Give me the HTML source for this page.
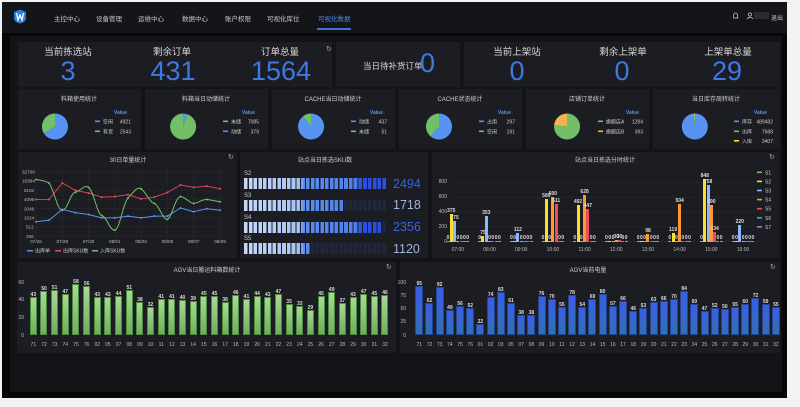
<!DOCTYPE html>
<html><head><meta charset="utf-8"><style>
*{margin:0;padding:0;box-sizing:border-box}
body{width:800px;height:407px;background:#f3f3f3;position:relative;overflow:hidden;font-family:"Liberation Sans","Noto Sans CJK SC",sans-serif;color:#ccc}
.a{position:absolute}
#frame{left:2px;top:2px;width:785px;height:396px;background:#070708}
#nav{left:2px;top:2px;width:785px;height:31px;background:#141519}
.nv{position:absolute;top:13px;font-size:6.5px;color:#c8c8c8;white-space:nowrap}
#cont{left:10px;top:36px;width:772px;height:356px;background:#131418}
.p{position:absolute;background:#1c1d22}
.t{position:absolute;font-size:6px;color:#d0d0d0;white-space:nowrap;transform:translateX(-50%)}
.sl{position:absolute;font-size:9.5px;color:#d8d8d8;transform:translateX(-50%);white-space:nowrap}
.sn{position:absolute;font-size:27px;color:#3e78e0;transform:translateX(-50%);line-height:1}
.bars{position:absolute;display:flex;align-items:flex-end}
.bars>div{display:flex;justify-content:center;align-items:flex-end;height:100%}
.bars b{display:block;position:relative}
.bars i{position:absolute;bottom:100%;left:50%;transform:translateX(-50%);font-style:normal;font-size:5px;color:#ddd;white-space:nowrap;line-height:6px}
.gb b{width:3px;margin:0 .15px}
.c1{background:#73bf69}.c2{background:#fade2a}.c3{background:#8ab8ff}.c4{background:#ff9830}.c5{background:#f2495c}.c6{background:#5794f2}.c7{background:#b877d9}
.ag b{width:7px;background:linear-gradient(#a6da93,#6daf5c);border:.6px solid #4d8a3f}
.ab b{width:8px;background:linear-gradient(#3b5de6,#3070b4);border:.6px solid #24458f}
.xl{position:absolute;display:flex;font-size:5px;color:#bbb}
.xl span{text-align:center}
.yl{position:absolute;font-size:5px;color:#bbb;text-align:right;width:20px}
.gauge{position:absolute;left:244px;width:143px;background:repeating-linear-gradient(to right,#1e283a 0 3.6px,#1c1d22 3.6px 4.77px)}
.fill{position:absolute;left:0;top:0;height:100%;background:linear-gradient(to right,#c6d8f6,#a9c4f1 38%,#5b8cee 42%,#4d80ec 78%,#2a4fe2 82%,#2a4fe2);background-size:143px 100%}
.fill::after{content:"";position:absolute;inset:0;background:repeating-linear-gradient(to right,transparent 0 3.6px,#1c1d22 3.6px 4.77px)}
.gv{position:absolute;left:393px;font-size:12.5px;line-height:1}
.gl{position:absolute;left:244px;font-size:6px;color:#ccc}
</style></head><body>
<div id="frame" class="a"></div>
<div id="nav" class="a"></div>
<svg class="a" style="left:13px;top:9px" width="14" height="15" viewBox="0 0 14 15"><path d="M7 0.5 L13 3 L13 9 Q13 13 7 14.5 Q1 13 1 9 L1 3 Z" fill="#2f7fe0"/><path d="M3.5 4 L5 11 L7 6 L9 11 L10.5 4" stroke="#fff" stroke-width="1.3" fill="none"/></svg>
<div class="nv" style="left:54px">主控中心</div>
<div class="nv" style="left:96px">设备管理</div>
<div class="nv" style="left:138px">运维中心</div>
<div class="nv" style="left:182px">数据中心</div>
<div class="nv" style="left:225px">账户权限</div>
<div class="nv" style="left:267px">可视化库位</div>
<div class="nv" style="left:318px;color:#4a86e8">可视化数据</div>
<div class="a" style="left:317px;top:28px;width:34px;height:1.5px;background:#3d74d6"></div>
<svg class="a" style="left:733px;top:12px" width="28" height="8"><path d="M2.5 1 Q4.5 1 4.5 4 L5 6 L0 6 L0.5 4 Q0.5 1 2.5 1Z" fill="none" stroke="#ccc" stroke-width=".7"/><circle cx="17" cy="2.5" r="1.6" fill="none" stroke="#ccc" stroke-width=".7"/><path d="M14 7 Q17 3.5 20 7" fill="none" stroke="#ccc" stroke-width=".7"/></svg>
<div class="a" style="left:754px;top:12px;width:15px;height:7px;background:#2a2b30"></div>
<div class="nv" style="left:771px;font-size:6px">退出</div>
<div id="cont" class="a"></div>

<!-- Row 1 -->
<div class="p" style="left:18px;top:42px;width:314px;height:45px"></div>
<div class="p" style="left:336px;top:42px;width:124px;height:45px"></div>
<div class="p" style="left:464px;top:42px;width:316px;height:45px"></div>
<div class="sl" style="left:68px;top:44px">当前拣选站</div>
<div class="sl" style="left:172px;top:44px">剩余订单</div>
<div class="sl" style="left:280px;top:44px">订单总量</div>
<div class="sn" style="left:68px;top:58px">3</div>
<div class="sn" style="left:173px;top:58px">431</div>
<div class="sn" style="left:281px;top:58px">1564</div>
<div class="a" style="left:326px;top:45px;font-size:7px;color:#aaa">↻</div>
<div class="a" style="left:363px;top:60px;font-size:8.5px;color:#d8d8d8">当日待补货订单</div>
<div class="a" style="left:420px;top:50px;font-size:27px;color:#3e78e0;line-height:1">0</div>
<div class="sl" style="left:517px;top:44px">当前上架站</div>
<div class="sl" style="left:623px;top:44px">剩余上架单</div>
<div class="sl" style="left:728px;top:44px">上架单总量</div>
<div class="sn" style="left:517px;top:58px">0</div>
<div class="sn" style="left:622px;top:58px">0</div>
<div class="sn" style="left:727px;top:58px">29</div>

<!-- Row 2 -->
<div class="p" style="left:18px;top:89px;width:123px;height:60px"></div>
<div class="p" style="left:145px;top:89px;width:123px;height:60px"></div>
<div class="p" style="left:272px;top:89px;width:123px;height:60px"></div>
<div class="p" style="left:399px;top:89px;width:123px;height:60px"></div>
<div class="p" style="left:526px;top:89px;width:123px;height:60px"></div>
<div class="p" style="left:653px;top:89px;width:127px;height:60px"></div>
<div class="t" style="left:79px;top:94px">料箱使用统计</div>
<div class="t" style="left:206px;top:94px">料箱当日动储统计</div>
<div class="t" style="left:333px;top:94px">CACHE当日动储统计</div>
<div class="t" style="left:460px;top:94px">CACHE状态统计</div>
<div class="t" style="left:587px;top:94px">店铺订单统计</div>
<div class="t" style="left:716px;top:94px">当日库存周转统计</div>
<svg class="a" style="left:0;top:0" width="800" height="160" font-family="Liberation Sans, Noto Sans CJK SC, sans-serif" font-size="5">
<g transform="translate(55,126.5)"><path d="M0,0 L0,-13 A13,13 0 1 1 -11,7 Z" fill="#5794f2"/><path d="M0,0 L-11,7 A13,13 0 0 1 0,-13 Z" fill="#73bf69"/></g>
<g transform="translate(183,126.5)"><path d="M0,0 L0,-13 A13,13 0 0 1 4,-12.4 Z" fill="#5794f2"/><path d="M0,0 L4,-12.4 A13,13 0 1 1 0,-13 Z" fill="#73bf69"/></g>
<g transform="translate(311,126.5)"><path d="M0,0 L0,-13 A13,13 0 1 1 -8,-10.2 Z" fill="#5794f2"/><path d="M0,0 L-8,-10.2 A13,13 0 0 1 0,-13 Z" fill="#73bf69"/></g>
<g transform="translate(439,126.5)"><path d="M0,0 L0,-13 A13,13 0 1 1 -8.2,10.1 Z" fill="#5794f2"/><path d="M0,0 L-8.2,10.1 A13,13 0 0 1 0,-13 Z" fill="#73bf69"/></g>
<g transform="translate(567,126.5)"><path d="M0,0 L0,-13 A13,13 0 1 1 -12.9,-1.3 Z" fill="#73bf69"/><path d="M0,0 L-12.9,-1.3 A13,13 0 0 1 0,-13 Z" fill="#f2b24c"/></g>
<g transform="translate(695,126.5)"><path d="M0,0 L0,-13 A13,13 0 1 1 -1.8,-12.9 Z" fill="#5794f2"/><path d="M0,0 L-1.8,-12.9 A13,13 0 0 1 -0.5,-13 Z" fill="#73bf69"/><path d="M0,0 L-0.5,-13 A13,13 0 0 1 0,-13 Z" fill="#fade2a"/></g>
<g fill="#ccc">
<text x="127" y="114" fill="#5794f2" font-weight="bold" text-anchor="end">Value</text>
<rect x="95" y="120.5" width="5" height="1.6" fill="#5794f2"/><text x="103" y="123.5">空闲</text><text x="131" y="123.5" text-anchor="end">4921</text>
<rect x="95" y="130.5" width="5" height="1.6" fill="#73bf69"/><text x="103" y="133.5">有货</text><text x="131" y="133.5" text-anchor="end">2543</text>
<text x="255" y="114" fill="#5794f2" font-weight="bold" text-anchor="end">Value</text>
<rect x="223" y="120.5" width="5" height="1.6" fill="#73bf69"/><text x="231" y="123.5">未储</text><text x="259" y="123.5" text-anchor="end">7085</text>
<rect x="223" y="130.5" width="5" height="1.6" fill="#5794f2"/><text x="231" y="133.5">动储</text><text x="259" y="133.5" text-anchor="end">379</text>
<text x="383" y="114" fill="#5794f2" font-weight="bold" text-anchor="end">Value</text>
<rect x="351" y="120.5" width="5" height="1.6" fill="#5794f2"/><text x="359" y="123.5">动储</text><text x="387" y="123.5" text-anchor="end">437</text>
<rect x="351" y="130.5" width="5" height="1.6" fill="#73bf69"/><text x="359" y="133.5">未储</text><text x="387" y="133.5" text-anchor="end">51</text>
<text x="511" y="114" fill="#5794f2" font-weight="bold" text-anchor="end">Value</text>
<rect x="479" y="120.5" width="5" height="1.6" fill="#5794f2"/><text x="487" y="123.5">占用</text><text x="515" y="123.5" text-anchor="end">297</text>
<rect x="479" y="130.5" width="5" height="1.6" fill="#73bf69"/><text x="487" y="133.5">空闲</text><text x="515" y="133.5" text-anchor="end">191</text>
<text x="639" y="114" fill="#5794f2" font-weight="bold" text-anchor="end">Value</text>
<rect x="598" y="120.5" width="5" height="1.6" fill="#73bf69"/><text x="606" y="123.5">旗舰店A</text><text x="643" y="123.5" text-anchor="end">1284</text>
<rect x="598" y="130.5" width="5" height="1.6" fill="#f2b24c"/><text x="606" y="133.5">旗舰店B</text><text x="643" y="133.5" text-anchor="end">393</text>
<text x="767" y="114" fill="#5794f2" font-weight="bold" text-anchor="end">Value</text>
<rect x="734" y="120.5" width="5" height="1.6" fill="#5794f2"/><text x="742" y="123.5">库存</text><text x="773" y="123.5" text-anchor="end">489482</text>
<rect x="734" y="130.5" width="5" height="1.6" fill="#73bf69"/><text x="742" y="133.5">出库</text><text x="773" y="133.5" text-anchor="end">7688</text>
<rect x="734" y="140" width="5" height="1.6" fill="#fade2a"/><text x="742" y="143">入库</text><text x="773" y="143" text-anchor="end">3407</text>
</g>
</svg>

<!-- Row 3 panels -->
<div class="p" style="left:18px;top:152px;width:219px;height:106px"></div>
<div class="p" style="left:240px;top:152px;width:188px;height:106px"></div>
<div class="p" style="left:432px;top:152px;width:347px;height:106px"></div>
<div class="t" style="left:128px;top:155px">30日单量统计</div>
<div class="t" style="left:325px;top:155px">站点当日拣选SKU数</div>
<div class="t" style="left:605px;top:155px">站点当日拣选分时统计</div>
<div class="a" style="left:228px;top:153px;font-size:7px;color:#aaa">↻</div>
<div class="a" style="left:769px;top:153px;font-size:7px;color:#aaa">↻</div>

<svg class="a" style="left:0;top:0" width="240" height="260" font-family="Liberation Sans, Noto Sans CJK SC, sans-serif" font-size="4.6">
<g stroke="#2a2c32" stroke-width=".5">
<line x1="36" x2="222" y1="171.7" y2="171.7"/><line x1="36" x2="222" y1="180.9" y2="180.9"/><line x1="36" x2="222" y1="190.1" y2="190.1"/><line x1="36" x2="222" y1="199.3" y2="199.3"/><line x1="36" x2="222" y1="208.5" y2="208.5"/><line x1="36" x2="222" y1="217.6" y2="217.6"/><line x1="36" x2="222" y1="226.8" y2="226.8"/><line x1="36" x2="222" y1="236" y2="236"/>
<line x1="36" x2="36" y1="170" y2="236"/><line x1="62.3" x2="62.3" y1="170" y2="236"/><line x1="88.6" x2="88.6" y1="170" y2="236"/><line x1="114.8" x2="114.8" y1="170" y2="236"/><line x1="141.1" x2="141.1" y1="170" y2="236"/><line x1="167.4" x2="167.4" y1="170" y2="236"/><line x1="193.7" x2="193.7" y1="170" y2="236"/><line x1="220" x2="220" y1="170" y2="236"/>
</g>
<g fill="#bbb">
<text x="22" y="173.5">32768</text><text x="22" y="182.7">16384</text><text x="24" y="191.9">8192</text><text x="24" y="201.1">4096</text><text x="24" y="210.3">2048</text><text x="24" y="219.4">1024</text><text x="26" y="228.6">512</text><text x="26" y="237.8">256</text>
<g text-anchor="middle"><text x="36" y="243">07/26</text><text x="62.3" y="243">07/28</text><text x="88.6" y="243">07/30</text><text x="114.8" y="243">08/01</text><text x="141.1" y="243">08/03</text><text x="167.4" y="243">08/05</text><text x="193.7" y="243">08/07</text><text x="220" y="243">08/09</text></g>
</g>
<polyline fill="none" stroke="#5794f2" stroke-width="1" points="36,221.8 49.1,220.1 62.3,209.4 75.4,212.6 88.6,214.5 101.7,217.9 114.8,217.9 128,216.1 141.1,217.9 154.3,216.1 167.4,216.1 180.5,208 193.7,211.7 206.8,208.7 220,210.2"/>
<polyline fill="none" stroke="#f2495c" stroke-opacity=".85" stroke-width="1" points="36,199.5 49.1,199.4 62.3,183 75.4,190.3 88.6,193.1 101.7,197.1 114.8,196.6 128,194.6 141.1,198.9 154.3,197.1 167.4,192.5 180.5,185 193.7,187.4 206.8,186.1 220,188.8"/>
<path fill="none" stroke="#73bf69" stroke-width="1" d="M36,179.6 C42,180 45,181 49.1,183 C55,192 57,210 62.3,210.2 C68,210 70,193 75.4,192.2 C81,191 84,184 88.6,187.4 C94,192 97,214 101.7,215.5 C107,217 110,231 114.8,230.1 C120,229 123,203 128,198 C133,193 137,186 141.1,188.8 C146,192 150,203 154.3,203.4 C159,205 163,220 167.4,219.4 C172,218 175,197 180.5,196.6 C186,197 189,203 193.7,203.4 C199,203 202,199 206.8,199.5 C212,200 215,201 220,201.7"/>
<g fill="#5794f2"><circle cx="36" cy="221.8" r="1"/><circle cx="49.1" cy="220.1" r="1"/><circle cx="62.3" cy="209.4" r="1"/><circle cx="75.4" cy="212.6" r="1"/><circle cx="88.6" cy="214.5" r="1"/><circle cx="101.7" cy="217.9" r="1"/><circle cx="114.8" cy="217.9" r="1"/><circle cx="128" cy="216.1" r="1"/><circle cx="141.1" cy="217.9" r="1"/><circle cx="154.3" cy="216.1" r="1"/><circle cx="167.4" cy="216.1" r="1"/><circle cx="180.5" cy="208" r="1"/><circle cx="193.7" cy="211.7" r="1"/><circle cx="206.8" cy="208.7" r="1"/><circle cx="220" cy="210.2" r="1"/></g>
<g fill="#f2495c"><circle cx="36" cy="199.5" r="1"/><circle cx="49.1" cy="199.4" r="1"/><circle cx="62.3" cy="183" r="1"/><circle cx="75.4" cy="190.3" r="1"/><circle cx="88.6" cy="193.1" r="1"/><circle cx="101.7" cy="197.1" r="1"/><circle cx="114.8" cy="196.6" r="1"/><circle cx="128" cy="194.6" r="1"/><circle cx="141.1" cy="198.9" r="1"/><circle cx="154.3" cy="197.1" r="1"/><circle cx="167.4" cy="192.5" r="1"/><circle cx="180.5" cy="185" r="1"/><circle cx="193.7" cy="187.4" r="1"/><circle cx="206.8" cy="186.1" r="1"/><circle cx="220" cy="188.8" r="1"/></g>
<g fill="#73bf69"><circle cx="36" cy="179.6" r="1"/><circle cx="49.1" cy="183" r="1"/><circle cx="62.3" cy="210.2" r="1"/><circle cx="75.4" cy="192.2" r="1"/><circle cx="88.6" cy="187.4" r="1"/><circle cx="101.7" cy="215.5" r="1"/><circle cx="114.8" cy="230.1" r="1"/><circle cx="128" cy="198" r="1"/><circle cx="141.1" cy="188.8" r="1"/><circle cx="154.3" cy="203.4" r="1"/><circle cx="167.4" cy="219.4" r="1"/><circle cx="180.5" cy="196.6" r="1"/><circle cx="193.7" cy="203.4" r="1"/><circle cx="206.8" cy="199.5" r="1"/><circle cx="220" cy="201.7" r="1"/></g>
<g fill="#ccc" font-size="5"><rect x="27" y="250" width="6" height="1.5" fill="#5794f2"/><text x="35" y="252.5">出库单</text><rect x="55" y="250" width="6" height="1.5" fill="#f2495c"/><text x="63" y="252.5">出库SKU数</text><rect x="92" y="250" width="6" height="1.5" fill="#73bf69"/><text x="100" y="252.5">入库SKU数</text></g>
</svg>

<!-- SKU gauges -->
<div class="gl" style="top:171px">S2</div>
<div class="gauge" style="top:178px;height:11px"><div class="fill" style="width:143px"></div></div>
<div class="gv" style="top:178px;color:#3a63d6">2494</div>
<div class="gl" style="top:193px">S3</div>
<div class="gauge" style="top:200px;height:11px"><div class="fill" style="width:100px"></div></div>
<div class="gv" style="top:199px;color:#9fb5de">1718</div>
<div class="gl" style="top:215px">S4</div>
<div class="gauge" style="top:222px;height:11px"><div class="fill" style="width:138px"></div></div>
<div class="gv" style="top:221px;color:#3a63d6">2356</div>
<div class="gl" style="top:236px">S5</div>
<div class="gauge" style="top:243px;height:11px"><div class="fill" style="width:66.8px"></div></div>
<div class="gv" style="top:243px;color:#9fb5de">1120</div>

<!-- grouped bars -->
<svg class="a" style="left:432px;top:152px" width="347" height="106"><g stroke="#2a2c32" stroke-width=".5"><line x1="18" x2="330" y1="30.3" y2="30.3"/><line x1="18" x2="330" y1="45.1" y2="45.1"/><line x1="18" x2="330" y1="60" y2="60"/><line x1="18" x2="330" y1="74.9" y2="74.9"/><line x1="18" x2="330" y1="89.7" y2="89.7"/></g></svg>
<div class="yl" style="left:427px;top:179px">800</div>
<div class="yl" style="left:427px;top:194px">600</div>
<div class="yl" style="left:427px;top:209px">400</div>
<div class="yl" style="left:427px;top:224px">200</div>
<div class="yl" style="left:427px;top:238.5px">0</div>
<div class="bars gb" style="left:442px;top:160px;width:317px;height:81.7px">
<div style="width:31.7px"><b class="c1" style="height:.5px"><i>0</i></b><b class="c2" style="height:27.8px"><i>375</i></b><b class="c3" style="height:20.4px"><i>275</i></b><b class="c4" style="height:.5px"><i>0</i></b><b class="c5" style="height:.5px"><i>0</i></b><b class="c6" style="height:.5px"><i>0</i></b><b class="c7" style="height:.5px"><i>0</i></b></div>
<div style="width:31.7px"><b class="c1" style="height:.5px"><i>0</i></b><b class="c2" style="height:5.6px"><i>75</i></b><b class="c3" style="height:26.2px"><i>353</i></b><b class="c4" style="height:.5px"><i>0</i></b><b class="c5" style="height:.5px"><i>0</i></b><b class="c6" style="height:.5px"><i>0</i></b><b class="c7" style="height:.5px"><i>0</i></b></div>
<div style="width:31.7px"><b class="c1" style="height:.5px"><i>0</i></b><b class="c2" style="height:.5px"><i>0</i></b><b class="c3" style="height:8.3px"><i>112</i></b><b class="c4" style="height:.5px"><i>0</i></b><b class="c5" style="height:.5px"><i>0</i></b><b class="c6" style="height:.5px"><i>0</i></b><b class="c7" style="height:.5px"><i>0</i></b></div>
<div style="width:31.7px"><b class="c1" style="height:.5px"><i>0</i></b><b class="c2" style="height:43.1px"><i>580</i></b><b class="c3" style="height:.5px"><i>0</i></b><b class="c4" style="height:44.6px"><i>600</i></b><b class="c5" style="height:37.9px"><i>511</i></b><b class="c6" style="height:.5px"><i>0</i></b><b class="c7" style="height:.5px"><i>0</i></b></div>
<div style="width:31.7px"><b class="c1" style="height:.5px"><i>0</i></b><b class="c2" style="height:36.5px"><i>492</i></b><b class="c3" style="height:.5px"><i>0</i></b><b class="c4" style="height:46.6px"><i>628</i></b><b class="c5" style="height:33.2px"><i>447</i></b><b class="c6" style="height:.5px"><i>0</i></b><b class="c7" style="height:.5px"><i>0</i></b></div>
<div style="width:31.7px"><b class="c1" style="height:.5px"><i>0</i></b><b class="c2" style="height:.5px"><i>0</i></b><b class="c3" style="height:.5px"><i>0</i></b><b class="c4" style="height:2.2px"><i>30</i></b><b class="c5" style="height:2.2px"><i>30</i></b><b class="c6" style="height:.5px"><i>0</i></b><b class="c7" style="height:.5px"><i>0</i></b></div>
<div style="width:31.7px"><b class="c1" style="height:.5px"><i>0</i></b><b class="c2" style="height:.5px"><i>0</i></b><b class="c3" style="height:.5px"><i>0</i></b><b class="c4" style="height:7.3px"><i>98</i></b><b class="c5" style="height:.5px"><i>0</i></b><b class="c6" style="height:.5px"><i>0</i></b><b class="c7" style="height:.5px"><i>0</i></b></div>
<div style="width:31.7px"><b class="c1" style="height:.5px"><i>0</i></b><b class="c2" style="height:8.8px"><i>119</i></b><b class="c3" style="height:.5px"><i>0</i></b><b class="c4" style="height:37.4px"><i>504</i></b><b class="c5" style="height:.5px"><i>0</i></b><b class="c6" style="height:.5px"><i>0</i></b><b class="c7" style="height:.5px"><i>0</i></b></div>
<div style="width:31.7px"><b class="c1" style="height:.5px"><i>0</i></b><b class="c2" style="height:63px"><i>848</i></b><b class="c3" style="height:56.3px"><i>758</i></b><b class="c4" style="height:36.4px"><i>490</i></b><b class="c5" style="height:9.9px"><i>134</i></b><b class="c6" style="height:.5px"><i>0</i></b><b class="c7" style="height:.5px"><i>0</i></b></div>
<div style="width:31.7px"><b class="c1" style="height:.5px"><i>0</i></b><b class="c2" style="height:.5px"><i>0</i></b><b class="c3" style="height:16.3px"><i>220</i></b><b class="c4" style="height:.5px"><i>0</i></b><b class="c5" style="height:.5px"><i>0</i></b><b class="c6" style="height:.5px"><i>0</i></b><b class="c7" style="height:.5px"><i>0</i></b></div>
</div>
<div class="xl" style="left:442px;top:247px;width:317px"><span style="width:31.7px">07:00</span><span style="width:31.7px">08:00</span><span style="width:31.7px">09:00</span><span style="width:31.7px">10:00</span><span style="width:31.7px">11:00</span><span style="width:31.7px">12:00</span><span style="width:31.7px">13:00</span><span style="width:31.7px">14:00</span><span style="width:31.7px">15:00</span><span style="width:31.7px">16:00</span></div>
<svg class="a" style="left:755px;top:168px" width="25" height="66" font-family="Liberation Sans, sans-serif" font-size="5" fill="#ccc">
<rect x="2" y="3.5" width="5" height="1.6" fill="#73bf69"/><text x="10" y="6.3">S1</text>
<rect x="2" y="12.6" width="5" height="1.6" fill="#fade2a"/><text x="10" y="15.4">S2</text>
<rect x="2" y="21.7" width="5" height="1.6" fill="#8ab8ff"/><text x="10" y="24.5">S3</text>
<rect x="2" y="30.8" width="5" height="1.6" fill="#ff9830"/><text x="10" y="33.6">S4</text>
<rect x="2" y="39.9" width="5" height="1.6" fill="#f2495c"/><text x="10" y="42.7">S5</text>
<rect x="2" y="49" width="5" height="1.6" fill="#5794f2"/><text x="10" y="51.8">S6</text>
<rect x="2" y="58.1" width="5" height="1.6" fill="#b877d9"/><text x="10" y="60.9">S7</text>
</svg>

<!-- Row 4 -->
<div class="p" style="left:17px;top:262px;width:379px;height:91px"></div>
<div class="p" style="left:400px;top:262px;width:380px;height:91px"></div>
<div class="t" style="left:207px;top:265px">AGV当日搬运料箱数统计</div>
<div class="t" style="left:588px;top:265px">AGV当前电量</div>
<div class="a" style="left:386px;top:263px;font-size:7px;color:#aaa">↻</div>
<div class="a" style="left:770px;top:263px;font-size:7px;color:#aaa">↻</div>
<div class="yl" style="left:4px;top:279.5px">60</div>
<div class="yl" style="left:4px;top:297px">40</div>
<div class="yl" style="left:4px;top:315px">20</div>
<div class="yl" style="left:4px;top:332.5px">0</div>
<div class="bars ag" style="left:28px;top:275px;width:362.4px;height:60.3px">
<div style="width:10.66px"><b style="height:38px"><i>43</i></b></div><div style="width:10.66px"><b style="height:44.2px"><i>50</i></b></div><div style="width:10.66px"><b style="height:45px"><i>51</i></b></div><div style="width:10.66px"><b style="height:41.5px"><i>47</i></b></div><div style="width:10.66px"><b style="height:51.2px"><i>58</i></b></div><div style="width:10.66px"><b style="height:49.4px"><i>56</i></b></div><div style="width:10.66px"><b style="height:38px"><i>43</i></b></div><div style="width:10.66px"><b style="height:38px"><i>43</i></b></div><div style="width:10.66px"><b style="height:38.9px"><i>44</i></b></div><div style="width:10.66px"><b style="height:45px"><i>51</i></b></div><div style="width:10.66px"><b style="height:33.6px"><i>38</i></b></div><div style="width:10.66px"><b style="height:28.3px"><i>32</i></b></div><div style="width:10.66px"><b style="height:36.2px"><i>41</i></b></div><div style="width:10.66px"><b style="height:36.2px"><i>41</i></b></div><div style="width:10.66px"><b style="height:35.3px"><i>40</i></b></div><div style="width:10.66px"><b style="height:34.4px"><i>39</i></b></div><div style="width:10.66px"><b style="height:39.7px"><i>45</i></b></div><div style="width:10.66px"><b style="height:39.7px"><i>45</i></b></div><div style="width:10.66px"><b style="height:33.6px"><i>38</i></b></div><div style="width:10.66px"><b style="height:40.6px"><i>46</i></b></div><div style="width:10.66px"><b style="height:36.2px"><i>41</i></b></div><div style="width:10.66px"><b style="height:38.9px"><i>44</i></b></div><div style="width:10.66px"><b style="height:38px"><i>43</i></b></div><div style="width:10.66px"><b style="height:41.5px"><i>47</i></b></div><div style="width:10.66px"><b style="height:30.9px"><i>35</i></b></div><div style="width:10.66px"><b style="height:29.1px"><i>33</i></b></div><div style="width:10.66px"><b style="height:25.6px"><i>29</i></b></div><div style="width:10.66px"><b style="height:39.7px"><i>45</i></b></div><div style="width:10.66px"><b style="height:43.3px"><i>49</i></b></div><div style="width:10.66px"><b style="height:32.7px"><i>37</i></b></div><div style="width:10.66px"><b style="height:38px"><i>43</i></b></div><div style="width:10.66px"><b style="height:41.5px"><i>47</i></b></div><div style="width:10.66px"><b style="height:39.7px"><i>45</i></b></div><div style="width:10.66px"><b style="height:40.6px"><i>46</i></b></div>
</div>
<div class="xl" style="left:28px;top:342px;width:362.4px"><span style="width:10.66px">71</span><span style="width:10.66px">72</span><span style="width:10.66px">73</span><span style="width:10.66px">74</span><span style="width:10.66px">75</span><span style="width:10.66px">76</span><span style="width:10.66px">02</span><span style="width:10.66px">05</span><span style="width:10.66px">07</span><span style="width:10.66px">08</span><span style="width:10.66px">09</span><span style="width:10.66px">10</span><span style="width:10.66px">11</span><span style="width:10.66px">12</span><span style="width:10.66px">13</span><span style="width:10.66px">14</span><span style="width:10.66px">15</span><span style="width:10.66px">16</span><span style="width:10.66px">17</span><span style="width:10.66px">18</span><span style="width:10.66px">19</span><span style="width:10.66px">20</span><span style="width:10.66px">21</span><span style="width:10.66px">22</span><span style="width:10.66px">23</span><span style="width:10.66px">24</span><span style="width:10.66px">25</span><span style="width:10.66px">26</span><span style="width:10.66px">27</span><span style="width:10.66px">28</span><span style="width:10.66px">29</span><span style="width:10.66px">30</span><span style="width:10.66px">31</span><span style="width:10.66px">32</span></div>

<div class="yl" style="left:386px;top:280px">100</div>
<div class="yl" style="left:386px;top:293px">75</div>
<div class="yl" style="left:386px;top:306px">50</div>
<div class="yl" style="left:386px;top:319px">25</div>
<div class="yl" style="left:386px;top:332.5px">0</div>
<div class="bars ab" style="left:414.2px;top:275px;width:366.8px;height:60.3px">
<div style="width:10.19px"><b style="height:49.7px"><i>95</i></b></div><div style="width:10.19px"><b style="height:32.4px"><i>62</i></b></div><div style="width:10.19px"><b style="height:48.1px"><i>92</i></b></div><div style="width:10.19px"><b style="height:25.6px"><i>49</i></b></div><div style="width:10.19px"><b style="height:29.3px"><i>56</i></b></div><div style="width:10.19px"><b style="height:27.2px"><i>52</i></b></div><div style="width:10.19px"><b style="height:11.5px"><i>22</i></b></div><div style="width:10.19px"><b style="height:38.7px"><i>74</i></b></div><div style="width:10.19px"><b style="height:43.4px"><i>83</i></b></div><div style="width:10.19px"><b style="height:31.9px"><i>61</i></b></div><div style="width:10.19px"><b style="height:19.9px"><i>38</i></b></div><div style="width:10.19px"><b style="height:19.9px"><i>38</i></b></div><div style="width:10.19px"><b style="height:39.7px"><i>76</i></b></div><div style="width:10.19px"><b style="height:36.6px"><i>70</i></b></div><div style="width:10.19px"><b style="height:28.8px"><i>55</i></b></div><div style="width:10.19px"><b style="height:40.8px"><i>78</i></b></div><div style="width:10.19px"><b style="height:28.2px"><i>54</i></b></div><div style="width:10.19px"><b style="height:36.1px"><i>69</i></b></div><div style="width:10.19px"><b style="height:41.8px"><i>80</i></b></div><div style="width:10.19px"><b style="height:29.8px"><i>57</i></b></div><div style="width:10.19px"><b style="height:34.5px"><i>66</i></b></div><div style="width:10.19px"><b style="height:24.1px"><i>46</i></b></div><div style="width:10.19px"><b style="height:27.7px"><i>53</i></b></div><div style="width:10.19px"><b style="height:32.9px"><i>63</i></b></div><div style="width:10.19px"><b style="height:34.5px"><i>66</i></b></div><div style="width:10.19px"><b style="height:36.6px"><i>70</i></b></div><div style="width:10.19px"><b style="height:43.9px"><i>84</i></b></div><div style="width:10.19px"><b style="height:31.4px"><i>60</i></b></div><div style="width:10.19px"><b style="height:24.6px"><i>47</i></b></div><div style="width:10.19px"><b style="height:27.2px"><i>52</i></b></div><div style="width:10.19px"><b style="height:26.2px"><i>50</i></b></div><div style="width:10.19px"><b style="height:28.8px"><i>55</i></b></div><div style="width:10.19px"><b style="height:31.4px"><i>60</i></b></div><div style="width:10.19px"><b style="height:37.7px"><i>72</i></b></div><div style="width:10.19px"><b style="height:30.9px"><i>59</i></b></div><div style="width:10.19px"><b style="height:28.8px"><i>55</i></b></div>
</div>
<div class="xl" style="left:414.2px;top:342px;width:366.8px"><span style="width:10.19px">71</span><span style="width:10.19px">72</span><span style="width:10.19px">73</span><span style="width:10.19px">74</span><span style="width:10.19px">75</span><span style="width:10.19px">76</span><span style="width:10.19px">01</span><span style="width:10.19px">02</span><span style="width:10.19px">03</span><span style="width:10.19px">05</span><span style="width:10.19px">07</span><span style="width:10.19px">08</span><span style="width:10.19px">09</span><span style="width:10.19px">10</span><span style="width:10.19px">11</span><span style="width:10.19px">12</span><span style="width:10.19px">13</span><span style="width:10.19px">14</span><span style="width:10.19px">15</span><span style="width:10.19px">16</span><span style="width:10.19px">17</span><span style="width:10.19px">18</span><span style="width:10.19px">19</span><span style="width:10.19px">20</span><span style="width:10.19px">21</span><span style="width:10.19px">22</span><span style="width:10.19px">23</span><span style="width:10.19px">24</span><span style="width:10.19px">25</span><span style="width:10.19px">26</span><span style="width:10.19px">27</span><span style="width:10.19px">28</span><span style="width:10.19px">29</span><span style="width:10.19px">30</span><span style="width:10.19px">31</span><span style="width:10.19px">32</span></div>
</body></html>
